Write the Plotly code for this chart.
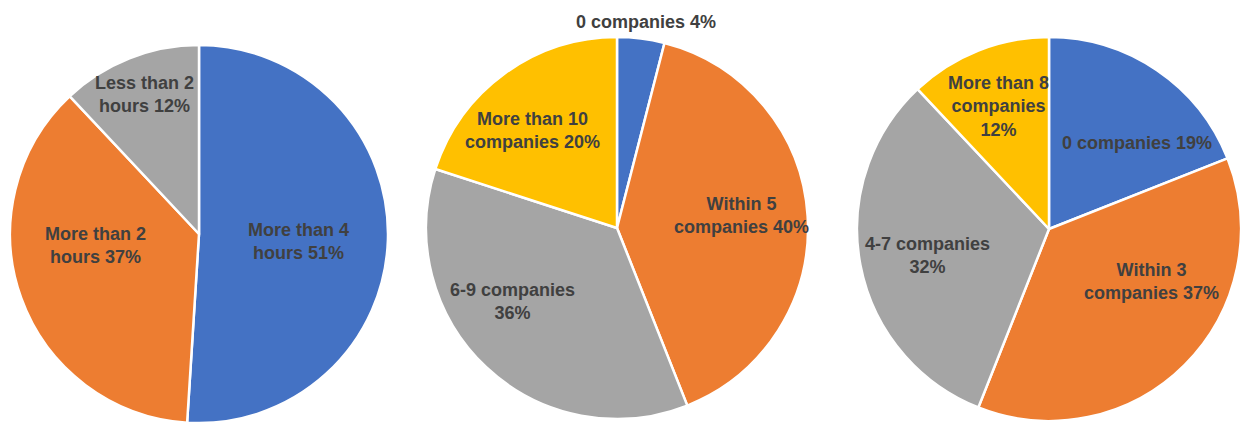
import plotly.graph_objects as go

# Chart 1: time spent
hours_labels = ["More than 4<br>hours", "More than 2<br>hours", "Less than 2<br>hours"]
hours_values = [51, 37, 12]
hours_sep = [" ", " ", " "]

# Chart 2: number of companies (A)
comp_a_labels = ["0 companies", "Within 5<br>companies", "6-9 companies", "More than 10<br>companies"]
comp_a_values = [4, 40, 36, 20]
comp_a_sep = [" ", " ", "<br>", " "]

# Chart 3: number of companies (B)
comp_b_labels = ["0 companies", "Within 3<br>companies", "4-7 companies", "More than 8<br>companies"]
comp_b_values = [19, 37, 32, 12]
comp_b_sep = [" ", " ", "<br>", "<br>"]

COLORS = ["#4472C4", "#ED7D31", "#A5A5A5", "#FFC000"]
W, H = 1250, 425
OFF = 8  # page body margin pushes the figure right/down
TXT = "#404040"


def px_domain(cx, cy, r):
    cx, cy = cx - OFF, cy - OFF
    return dict(
        x=[(cx - r) / W, (cx + r) / W],
        y=[1 - (cy + r) / H, 1 - (cy - r) / H],
    )


pies = [
    (hours_labels, hours_values, hours_sep, (199, 234, 189),
     [(298, 241), (95, 245), (144, 94)]),
    (comp_a_labels, comp_a_values, comp_a_sep, (617, 228, 191),
     [(646, 22), (741, 215), (512, 301), (532, 130)]),
    (comp_b_labels, comp_b_values, comp_b_sep, (1049, 229, 192),
     [(1137, 143), (1151, 281), (927, 255), (999, 107)]),
]

fig = go.Figure()
annotations = []
for labels, values, sep, (cx, cy, r), pos in pies:
    fig.add_trace(
        go.Pie(
            labels=[l.replace("<br>", " ") for l in labels],
            values=values,
            sort=False,
            direction="clockwise",
            rotation=0,
            textinfo="none",
            marker=dict(colors=COLORS[: len(values)], line=dict(color="white", width=2.5)),
            domain=px_domain(cx, cy, r),
            showlegend=False,
        )
    )
    for lab, v, s, (x, y) in zip(labels, values, sep, pos):
        annotations.append(
            dict(
                x=(x - OFF) / W, y=1 - (y - OFF) / H, xref="paper", yref="paper",
                text=f"{lab}{s}{v}%", showarrow=False,
                xanchor="center", yanchor="middle", align="center",
                font=dict(family="Liberation Sans, Arial, sans-serif", size=18,
                          color=TXT, weight="bold"),
            )
        )

fig.update_layout(
    width=W, height=H,
    margin=dict(l=0, r=0, t=0, b=0),
    paper_bgcolor="white",
    plot_bgcolor="white",
    annotations=annotations,
)

fig.write_html("out.html")
